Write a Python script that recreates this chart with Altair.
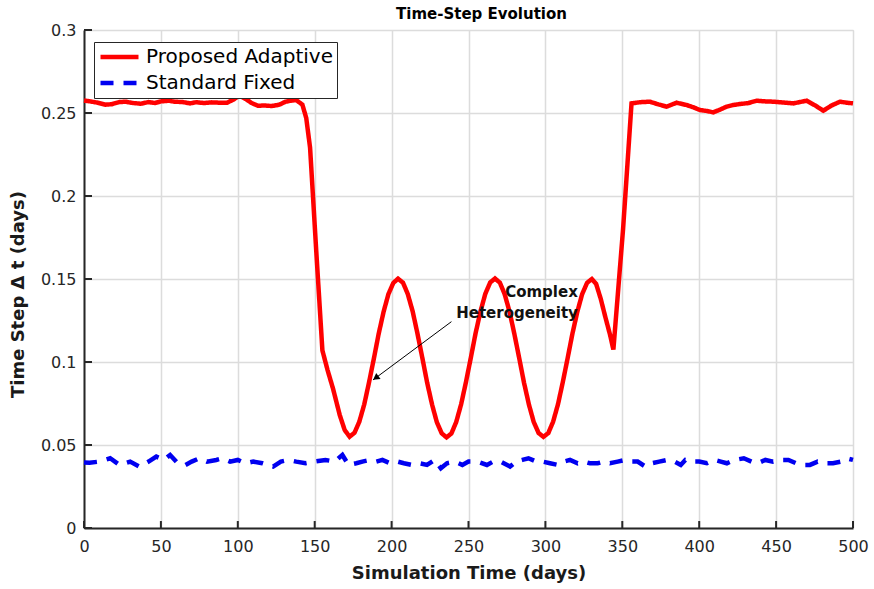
import altair as alt
import pandas as pd

# ---------------- data ----------------
series_names = ["Proposed Adaptive", "Standard Fixed"]
series_colors = ["#ff0000", "#0000f0"]

# Proposed Adaptive time step (t in days, dt in days)
adaptive_points = [
    (0, 0.2575), (4, 0.2570), (9, 0.2562), (14, 0.2550), (18, 0.2553), (23, 0.2566),
    (27, 0.2568), (32, 0.2560), (37, 0.2556), (42, 0.2566), (46, 0.2560), (50, 0.2570),
    (55, 0.2574), (59, 0.2568), (64, 0.2566), (69, 0.2558), (73, 0.2565), (78, 0.2560),
    (83, 0.2564), (88, 0.2562), (93, 0.2562), (97, 0.2580), (101, 0.2604), (105, 0.2585),
    (109, 0.2560), (113, 0.2544), (118, 0.2545), (122, 0.2542), (127, 0.2550), (131, 0.2568),
    (135, 0.2575), (138, 0.2578), (142, 0.2550), (144.5, 0.2470), (147, 0.2290), (151, 0.1670),
    (155, 0.1070), (158.4, 0.0950), (161.9, 0.0840), (166.3, 0.0680), (169.5, 0.0590),
    (172.7, 0.0550), (175.9, 0.0574), (179.0, 0.0640), (182.2, 0.0744), (185.3, 0.0876),
    (188.5, 0.1022), (191.6, 0.1170), (194.8, 0.1303), (197.9, 0.1408), (201.1, 0.1476),
    (204.2, 0.1502), (207.4, 0.1478), (210.5, 0.1410), (213.7, 0.1305), (216.8, 0.1172),
    (220.0, 0.1024), (223.1, 0.0876), (226.3, 0.0744), (229.4, 0.0638), (232.6, 0.0570),
    (235.7, 0.0546), (238.9, 0.0570), (242.0, 0.0638), (245.2, 0.0745), (248.3, 0.0877),
    (251.5, 0.1025), (254.6, 0.1173), (257.8, 0.1305), (260.9, 0.1410), (264.1, 0.1479),
    (267.2, 0.1503), (270.4, 0.1478), (273.5, 0.1409), (276.7, 0.1303), (279.8, 0.1170),
    (283.0, 0.1022), (286.1, 0.0875), (289.3, 0.0743), (292.4, 0.0639), (295.6, 0.0572),
    (298.7, 0.0549), (301.9, 0.0572), (305.0, 0.0640), (308.2, 0.0746), (311.3, 0.0878),
    (314.5, 0.1025), (317.6, 0.1172), (320.8, 0.1304), (323.9, 0.1409), (327.1, 0.1477),
    (330.2, 0.1500), (333.0, 0.1470), (336.0, 0.1380), (339.0, 0.1270), (342.0, 0.1165),
    (344.2, 0.1075), (350.5, 0.1800), (356.0, 0.2558), (361.5, 0.2565), (367.9, 0.2568),
    (373.5, 0.2552), (378.8, 0.2538), (385.3, 0.2562), (391.8, 0.2548), (396.0, 0.2535),
    (400.5, 0.2518), (405.0, 0.2512), (409.1, 0.2504), (413.5, 0.2520), (417.8, 0.2538),
    (422.0, 0.2548), (426.5, 0.2554), (432.0, 0.2560), (437.3, 0.2574), (443.0, 0.2570),
    (448.2, 0.2568), (455.0, 0.2563), (461.2, 0.2558), (465.5, 0.2566), (469.9, 0.2574),
    (475.5, 0.2545), (480.7, 0.2514), (486.0, 0.2545), (491.5, 0.2568), (496.0, 0.2562),
    (500.0, 0.2558),
]

# Standard Fixed time step
fixed_points = [
    (0, 0.0395), (3.6, 0.0393), (10, 0.0400), (17, 0.0420), (23, 0.0380), (30, 0.0400),
    (36, 0.0370), (42, 0.0400), (47, 0.0430), (52, 0.0410), (56, 0.0440), (61, 0.0390),
    (66, 0.0380), (70, 0.0400), (75, 0.0420), (80, 0.0400), (86, 0.0410), (90, 0.0420),
    (95, 0.0400), (100, 0.0410), (105, 0.0390), (110, 0.0400), (116, 0.0390), (123, 0.0370),
    (128, 0.0400), (133, 0.0410), (138, 0.0400), (144, 0.0390), (150, 0.0400), (157, 0.0410),
    (163, 0.0400), (168, 0.0440), (172, 0.0380), (177, 0.0390), (181, 0.0400), (186, 0.0410),
    (190, 0.0400), (194, 0.0410), (199, 0.0390), (204, 0.0400), (208, 0.0390), (213, 0.0380),
    (218, 0.0390), (223, 0.0380), (228, 0.0410), (232, 0.0360), (236, 0.0390), (241, 0.0400),
    (246, 0.0380), (250, 0.0400), (256, 0.0400), (262, 0.0380), (266, 0.0400), (271, 0.0400),
    (277, 0.0370), (281, 0.0400), (285, 0.0410), (289, 0.0420), (294, 0.0400), (298, 0.0400),
    (303, 0.0390), (308, 0.0380), (312, 0.0400), (316, 0.0410), (321, 0.0390), (325, 0.0400),
    (329, 0.0390), (334, 0.0390), (338, 0.0400), (342, 0.0390), (347, 0.0400), (352, 0.0410),
    (356, 0.0400), (360, 0.0400), (365, 0.0370), (369, 0.0390), (374, 0.0400), (379, 0.0410),
    (384, 0.0400), (388, 0.0380), (391, 0.0410), (396, 0.0400), (400, 0.0400), (405, 0.0390),
    (410, 0.0410), (414, 0.0400), (418, 0.0390), (423, 0.0410), (429, 0.0420), (434, 0.0400),
    (438, 0.0390), (443, 0.0410), (448, 0.0400), (453, 0.0410), (458, 0.0410), (463, 0.0390),
    (468, 0.0380), (472, 0.0380), (477, 0.0400), (482, 0.0390), (487, 0.0390), (492, 0.0400),
    (496, 0.0420), (500, 0.0410),
]

x_ticks = [0, 50, 100, 150, 200, 250, 300, 350, 400, 450, 500]
y_ticks = [0, 0.05, 0.1, 0.15, 0.2, 0.25, 0.3]
x_domain = [0, 500]
y_domain = [0, 0.3]

# annotation (data coordinates)
note_labels = ["Complex", "Heterogeneity"]
note_t = [321.1, 321.1]
note_v = [0.1422, 0.1295]
arrow_tail = [238.9, 0.1243]
arrow_tip = [187.9, 0.0892]
arrow_head_center = [189.7, 0.0904]

# inward tick lengths in data units
xtick_len = 0.0042
ytick_len = 5.2

FONT = "DejaVu Sans"
DARK = "#262626"

# ---------------- tables ----------------
lines_df = pd.concat([
    pd.DataFrame(adaptive_points, columns=["t", "v"]).assign(series=series_names[0]),
    pd.DataFrame(fixed_points, columns=["t", "v"]).assign(series=series_names[1]),
], ignore_index=True)

notes_df = pd.DataFrame({"label": note_labels, "t": note_t, "v": note_v})
arrow_df = pd.DataFrame({"t": [arrow_tail[0]], "v": [arrow_tail[1]],
                         "t2": [arrow_tip[0]], "v2": [arrow_tip[1]]})
head_df = pd.DataFrame({"t": [arrow_head_center[0]], "v": [arrow_head_center[1]]})
xt_df = pd.DataFrame({"t": x_ticks, "v": [0] * len(x_ticks), "v2": [xtick_len] * len(x_ticks)})
yt_df = pd.DataFrame({"v": y_ticks, "t": [0] * len(y_ticks), "t2": [ytick_len] * len(y_ticks)})

x_scale = alt.Scale(domain=x_domain, nice=False, zero=False)
y_scale = alt.Scale(domain=y_domain, nice=False, zero=False)

x_axis = alt.Axis(
    values=x_ticks, title="Simulation Time (days)", titleFont=FONT, titleFontSize=18,
    titleFontWeight="bold", titleColor="#1a1a1a", titleY=45, titleBaseline="middle",
    labelFont=FONT, labelFontSize=16, labelColor=DARK, labelPadding=10, labelFlush=False,
    labelOverlap=False, tickSize=0, domainColor=DARK, domainWidth=2,
    grid=True, gridColor="#dcdcdc", gridWidth=1.5,
)
y_axis = alt.Axis(
    values=y_ticks, format="~g", title="Time Step Δ t (days)", titleFont=FONT,
    titleFontSize=18, titleFontWeight="bold", titleColor="#1a1a1a", titleX=-66, titleY=264,
    titleAngle=270, titleBaseline="middle", titleAlign="center",
    labelFont=FONT, labelFontSize=16, labelColor=DARK, labelPadding=8, labelFlush=False,
    labelOverlap=False, tickSize=0, domainColor=DARK, domainWidth=2,
    grid=True, gridColor="#dcdcdc", gridWidth=1.5,
)


def X(field="t:Q"):
    return alt.X(field, scale=x_scale, axis=x_axis)


def Y(field="v:Q"):
    return alt.Y(field, scale=y_scale, axis=y_axis)


legend = alt.Legend(
    title=None, orient="none", legendX=10, legendY=12, symbolType="stroke",
    symbolSize=1444, symbolStrokeWidth=4.5, clipHeight=22, rowPadding=4,
    labelFont=FONT, labelFontSize=20, labelColor="#000000", labelOffset=5, labelLimit=400,
    padding=4, strokeColor=DARK, fillColor="#ffffff",
)

lines = alt.Chart(lines_df).mark_line(strokeWidth=4.5).encode(
    x=X(), y=Y(),
    color=alt.Color("series:N", scale=alt.Scale(domain=series_names, range=series_colors),
                    legend=legend),
    strokeDash=alt.StrokeDash("series:N",
                              scale=alt.Scale(domain=series_names, range=[[1, 0], [13, 10]]),
                              legend=legend),
    order=alt.Order("t:Q"),
)

xticks = alt.Chart(xt_df).mark_rule(color=DARK, strokeWidth=2).encode(
    x=X(), y=Y(), y2="v2:Q")
yticks = alt.Chart(yt_df).mark_rule(color=DARK, strokeWidth=2).encode(
    y=Y(), x=X(), x2="t2:Q")

arrow = alt.Chart(arrow_df).mark_rule(color="#000000", strokeWidth=1).encode(
    x=X(), y=Y(), x2="t2:Q", y2="v2:Q")
head = alt.Chart(head_df).mark_point(shape="triangle-up", filled=True, angle=234, size=55,
                                     color="#000000", opacity=1).encode(x=X(), y=Y())
notes = alt.Chart(notes_df).mark_text(font=FONT, fontSize=15, fontWeight="bold",
                                      align="right", baseline="middle", color="#111111").encode(
    x=X(), y=Y(), text="label:N")

chart = alt.layer(lines, xticks, yticks, arrow, head, notes).properties(
    width=769, height=498,
    title=alt.TitleParams("Time-Step Evolution", font=FONT, fontSize=15, fontWeight="bold",
                          color="#000000", anchor="middle", dx=13, offset=0),
    autosize=alt.AutoSizeParams(type="none"),
    padding={"left": 84, "top": 30, "right": 21, "bottom": 61},
).configure_view(strokeWidth=0).configure(background="#ffffff")

chart.save("out.html", embed_options={"renderer": "svg", "actions": False})
